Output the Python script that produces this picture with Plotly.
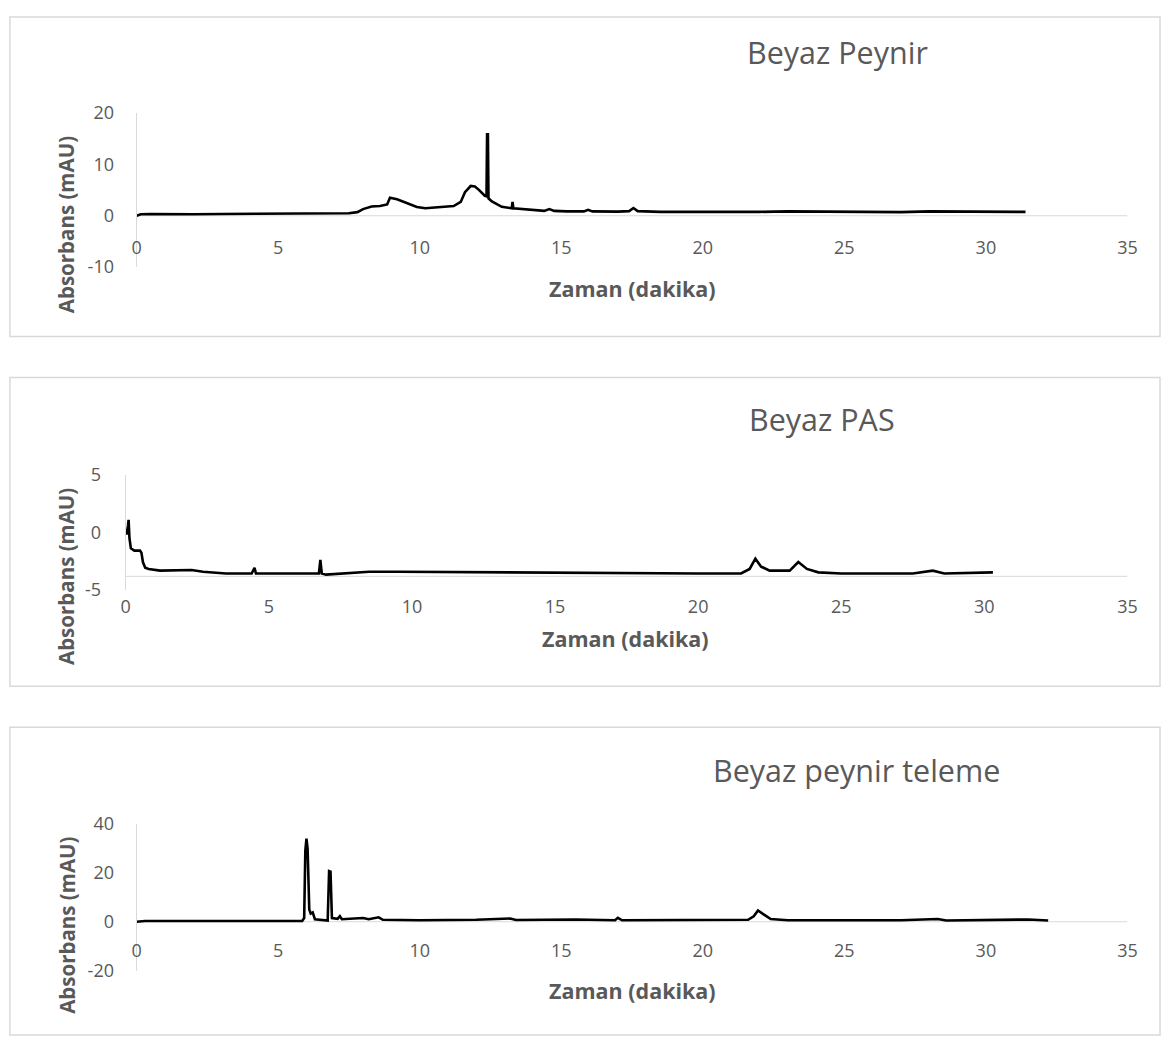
import plotly.graph_objects as go

W, H = 1171, 1049

# ---------------- data ----------------
peynir_t = [0.0, 0.15, 0.5, 1.0, 2.0, 3.0, 4.0, 5.0, 6.0, 7.0, 7.5, 7.8, 8.0, 8.3, 8.6, 8.85,
            8.95, 9.2, 9.5, 9.9, 10.2, 10.6, 11.0, 11.2, 11.45, 11.6, 11.8, 11.95, 12.1, 12.3,
            12.36, 12.38, 12.41, 12.43, 12.55, 12.9, 13.25, 13.28, 13.31, 13.6, 14.0, 14.4,
            14.58, 14.75, 15.2, 15.8, 15.95, 16.1, 17.0, 17.4, 17.55, 17.7, 18.5, 20.0, 22.0,
            23.0, 25.0, 27.0, 28.0, 29.0, 31.4]
peynir_y = [0.0, 0.3, 0.35, 0.3, 0.3, 0.35, 0.4, 0.4, 0.4, 0.4, 0.5, 0.7, 1.3, 1.8, 1.9, 2.2,
            3.5, 3.2, 2.5, 1.7, 1.45, 1.6, 1.7, 1.9, 2.7, 4.6, 5.8, 5.7, 5.0, 3.9,
            3.8, 15.9, 15.9, 3.4, 2.8, 1.75, 1.45, 2.7, 1.45, 1.3, 1.1, 0.95,
            1.3, 0.95, 0.85, 0.85, 1.15, 0.85, 0.8, 0.9, 1.5, 0.9, 0.75, 0.7, 0.75,
            0.85, 0.75, 0.7, 0.85, 0.8, 0.75]

pas_t = [0.0, 0.03, 0.08, 0.1, 0.13, 0.18, 0.3, 0.5, 0.55, 0.6, 0.68, 0.8, 1.2, 2.0, 2.3, 2.7,
         3.5, 4.4, 4.5, 4.55, 5.5, 6.75, 6.8, 6.85, 7.0, 7.5, 8.5, 9.5, 12.0, 15.0, 17.0,
         20.0, 21.5, 21.8, 22.0, 22.2, 22.5, 23.2, 23.5, 23.8, 24.2, 25.0, 27.5, 28.2, 28.6,
         30.0, 30.3]
pas_y = [0.3, -0.2, 0.6, 1.1, -0.5, -1.4, -1.6, -1.6, -1.8, -2.6, -3.1, -3.2, -3.35, -3.35, -3.3, -3.45,
         -3.6, -3.6, -3.1, -3.6, -3.6, -3.6, -2.4, -3.6, -3.7, -3.6, -3.45, -3.45, -3.5, -3.55, -3.6,
         -3.6, -3.6, -3.2, -2.3, -3.0, -3.35, -3.35, -2.6, -3.2, -3.5, -3.6, -3.6, -3.35, -3.6,
         -3.55, -3.5]

teleme_t = [0.0, 0.3, 1.0, 3.0, 4.5, 5.85, 5.92, 5.96, 6.0, 6.04, 6.1, 6.15, 6.22, 6.3, 6.75,
            6.8, 6.85, 6.9, 7.1, 7.18, 7.25, 7.6, 8.0, 8.2, 8.55, 8.7, 10.0, 12.0, 13.2, 13.4,
            15.5, 16.9, 17.0, 17.15, 21.6, 21.8, 21.95, 22.15, 22.4, 23.0, 27.0, 28.3, 28.6,
            31.5, 32.2]
teleme_y = [0.0, 0.3, 0.3, 0.2, 0.3, 0.3, 1.5, 29.0, 34.0, 30.0, 5.0, 3.3, 3.8, 1.0, 0.5,
            20.7, 20.5, 1.5, 1.2, 2.3, 1.0, 1.2, 1.5, 1.0, 1.8, 0.8, 0.6, 0.8, 1.3, 0.7,
            0.9, 0.6, 1.6, 0.6, 0.8, 2.2, 4.6, 3.0, 1.1, 0.6, 0.6, 1.1, 0.5,
            0.9, 0.5]

titles = ["Beyaz Peynir", "Beyaz PAS", "Beyaz peynir teleme"]
x_ticks = [0, 5, 10, 15, 20, 25, 30, 35]
x_ticktext = ["0", "5", "10", "15", "20", "25", "30", "35"]
y_ticks = [[-10, 0, 10, 20], [-5, 0, 5], [-20, 0, 20, 40]]
y_ticktext = [["-10", "0", "10", "20"], ["-5", "0", "5"], ["-20", "0", "20", "40"]]
y_ranges = [[-10, 20], [-5, 5], [-20, 40]]
x_cross = [0, -3.85, 0]
x_title = "Zaman (dakika)"
y_title = "Absorbans (mAU)"

series = [(peynir_t, peynir_y), (pas_t, pas_y), (teleme_t, teleme_y)]

# ---------------- layout geometry (pixels) ----------------
px_x0 = [133.3, 122.3, 133.3]      # x=0 pixel
px_x1 = [1137, 1137, 1137]         # x=35 pixel
px_ybot = [260, 590, 980]          # y min pixel
px_ytop = [102.5, 473, 830]        # y max pixel
px_xlab = [240, 608, 960]          # x tick label centre
ylab_gap = [18, 20, 18]
box = [(5, 4, 1170, 331), (5, 373, 1170, 689), (5, 731, 1170, 1046)]
title_pos = [(843, 40), (828, 416), (863, 775)]
xt_pos = [(636, 282), (629, 640), (636, 1000)]
yt_pos = [(62, 217), (62, 577), (62, 934)]

GRAY = "#595959"
LINE = "#d9d9d9"
FONT = "Open Sans"

def fx(p):
    return p / W

def fy(p):
    return 1 - p / H

fig = go.Figure()
layout = dict(width=W, height=H, margin=dict(l=0, r=0, t=0, b=0),
              paper_bgcolor="white", plot_bgcolor="white", showlegend=False,
              font=dict(family=FONT, color=GRAY))
shapes, annotations = [], []

for i in range(3):
    xs, ys = series[i]
    xa = "x" if i == 0 else f"x{i+1}"
    ya = "y" if i == 0 else f"y{i+1}"
    fig.add_trace(go.Scatter(x=xs, y=ys, mode="lines", xaxis=xa, yaxis=ya,
                             line=dict(color="black", width=2.6), hoverinfo="skip"))
    xkey = "xaxis" if i == 0 else f"xaxis{i+1}"
    ykey = "yaxis" if i == 0 else f"yaxis{i+1}"
    layout[xkey] = dict(domain=[fx(px_x0[i]), fx(px_x1[i])], range=[0, 35],
                        anchor="free", position=fy(px_xlab[i] - 13),
                        tickvals=x_ticks, ticktext=x_ticktext,
                        showline=False, showgrid=False, zeroline=False,
                        ticks="", tickfont=dict(size=18, color=GRAY, family=FONT))
    layout[ykey] = dict(domain=[fy(px_ybot[i]), fy(px_ytop[i])], range=y_ranges[i],
                        anchor=xa, tickvals=y_ticks[i], ticktext=y_ticktext[i],
                        showline=True, linecolor=LINE,
                        linewidth=1, showgrid=False, zeroline=False, ticks="",
                        ticklabelstandoff=ylab_gap[i],
                        tickfont=dict(size=18, color=GRAY, family=FONT))
    # horizontal axis line at its crossing value
    shapes.append(dict(type="line", xref=xa, yref=ya, x0=0, x1=35,
                       y0=x_cross[i], y1=x_cross[i], line=dict(color=LINE, width=1),
                       layer="below"))
    # chart border
    bx0, by0, bx1, by1 = box[i]
    shapes.append(dict(type="rect", xref="paper", yref="paper",
                       x0=fx(bx0), x1=fx(bx1), y0=fy(by1), y1=fy(by0),
                       line=dict(color=LINE, width=1.5)))
    annotations.append(dict(text=titles[i], xref="paper", yref="paper",
                            x=fx(title_pos[i][0]), y=fy(title_pos[i][1]),
                            xanchor="center", yanchor="middle", showarrow=False,
                            font=dict(size=30.5, color=GRAY, family=FONT)))
    annotations.append(dict(text="<b>" + x_title + "</b>", xref="paper", yref="paper",
                            x=fx(xt_pos[i][0]), y=fy(xt_pos[i][1]),
                            xanchor="center", yanchor="middle", showarrow=False,
                            font=dict(size=21.5, color=GRAY, family=FONT)))
    annotations.append(dict(text="<b>" + y_title + "</b>", xref="paper", yref="paper",
                            x=fx(yt_pos[i][0]), y=fy(yt_pos[i][1]), textangle=-90,
                            xanchor="center", yanchor="middle", showarrow=False,
                            font=dict(size=20.5, color=GRAY, family=FONT)))

layout["shapes"] = shapes
layout["annotations"] = annotations
fig.update_layout(**layout)
fig.write_html("out.html")
